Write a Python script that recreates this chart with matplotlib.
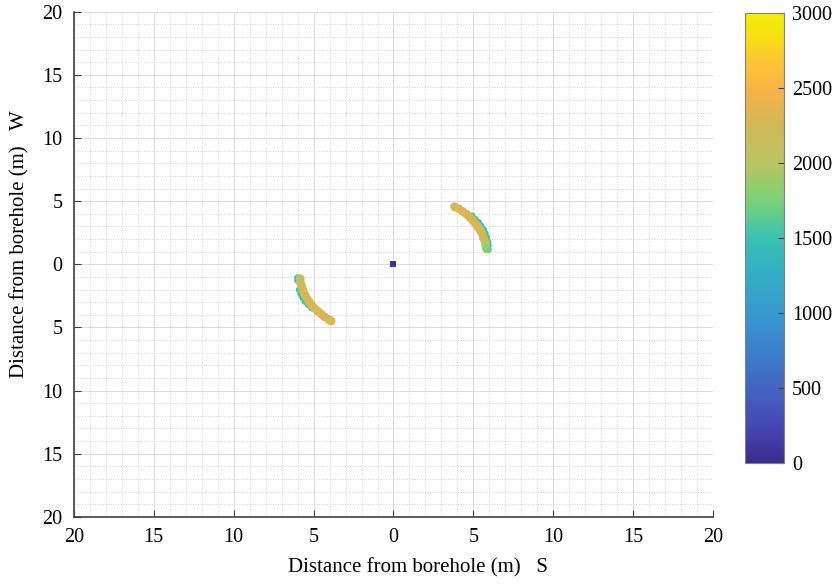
import numpy as np
import matplotlib
matplotlib.use('Agg')
import matplotlib.pyplot as plt
from matplotlib.colors import LinearSegmentedColormap
from matplotlib.ticker import MultipleLocator, FuncFormatter

plt.rcParams['font.family'] = ['Liberation Serif', 'DejaVu Serif']

# parula-like colour map, anchors
cmap_pos = [0.0, 0.08, 0.17, 0.25, 0.33, 0.42, 0.5, 0.56, 0.6,
            0.67, 0.75, 0.83, 0.9, 0.95, 1.0]
cmap_rgb = [
    [0.24, 0.17, 0.55], [0.27, 0.28, 0.70], [0.26, 0.40, 0.76],
    [0.24, 0.50, 0.80], [0.22, 0.60, 0.81], [0.20, 0.68, 0.77],
    [0.22, 0.76, 0.70], [0.40, 0.81, 0.53], [0.52, 0.82, 0.44],
    [0.73, 0.77, 0.38], [0.82, 0.72, 0.35], [0.97, 0.70, 0.28],
    [0.99, 0.78, 0.20], [0.97, 0.88, 0.06], [0.96, 0.92, 0.05]]
parula = LinearSegmentedColormap.from_list('parula_ref', list(zip(cmap_pos, cmap_rgb)))

# NE arc (polar: angle in degrees, radius in m, value)
ne_core_ang = [50, 47, 44, 41, 38, 35, 32, 29, 26, 23, 20, 17, 14, 12]
ne_core_rad = [5.95, 6.0, 6.02, 6.05, 6.05, 6.05, 6.05, 6.05, 6.05, 6.05, 6.0, 6.0, 5.95, 5.95]
ne_core_val = [2300, 2350, 2250, 2300, 2250, 2350, 2300, 2250, 2300, 2200, 2250, 2150, 2000, 1800]
ne_rim_ang = [38, 35, 32, 29, 26, 23, 20, 17, 14, 11]
ne_rim_rad = [6.25, 6.25, 6.28, 6.28, 6.28, 6.25, 6.22, 6.18, 6.12, 6.05]
ne_rim_val = [1600, 1550, 1500, 1550, 1500, 1450, 1500, 1550, 1450, 1400]

# SW arc
sw_core_ang = [191, 194, 197, 200, 203, 206, 209, 212, 215, 218, 221, 224, 227, 229]
sw_core_rad = [5.95, 6.0, 6.0, 6.02, 6.05, 6.05, 6.05, 6.05, 6.05, 6.02, 6.0, 6.0, 5.95, 5.95]
sw_core_val = [2000, 2150, 2250, 2200, 2300, 2250, 2200, 2300, 2250, 2300, 2350, 2250, 2300, 2350]
sw_rim_ang = [190, 192, 199, 202, 205, 208, 211, 214]
sw_rim_rad = [6.1, 6.15, 6.25, 6.27, 6.28, 6.28, 6.25, 6.2]
sw_rim_val = [1450, 1500, 1550, 1500, 1450, 1500, 1550, 1600]

# borehole
bh_x = [0.0]
bh_y = [0.0]
bh_val = [60]


def to_xy(ang, rad):
    a = np.radians(ang)
    r = np.array(rad)
    return r * np.cos(a), r * np.sin(a)


fig = plt.figure(figsize=(8.39, 5.86), dpi=100)
ax = fig.add_axes([0.088, 0.118, 0.762, 0.862])
cax = fig.add_axes([0.888, 0.21, 0.046, 0.768])

norm = plt.Normalize(0, 3000)
for ang, rad, val, s in [(ne_rim_ang, ne_rim_rad, ne_rim_val, 22),
                         (sw_rim_ang, sw_rim_rad, sw_rim_val, 22),
                         (ne_core_ang, ne_core_rad, ne_core_val, 40),
                         (sw_core_ang, sw_core_rad, sw_core_val, 40)]:
    x, y = to_xy(ang, rad)
    ax.scatter(x, y, c=val, cmap=parula, norm=norm, s=s, marker='o',
               linewidths=0, zorder=3)
ax.scatter(bh_x, bh_y, c=bh_val, cmap=parula, norm=norm, s=16, marker='s',
           linewidths=0, zorder=4)

ax.set_xlim(-20, 20)
ax.set_ylim(-20, 20)
ax.xaxis.set_major_locator(MultipleLocator(5))
ax.yaxis.set_major_locator(MultipleLocator(5))
ax.xaxis.set_minor_locator(MultipleLocator(1))
ax.yaxis.set_minor_locator(MultipleLocator(1))
absfmt = FuncFormatter(lambda v, p: '%d' % abs(round(v)))
ax.xaxis.set_major_formatter(absfmt)
ax.yaxis.set_major_formatter(absfmt)
ax.grid(True, which='major', color='#dadada', linewidth=0.7)
ax.grid(True, which='minor', color='#d0d0d0', linewidth=0.7, linestyle=':')
ax.set_axisbelow(True)
for side in ['top', 'right']:
    ax.spines[side].set_visible(False)
for side in ['left', 'bottom']:
    ax.spines[side].set_color('#404040')
    ax.spines[side].set_linewidth(1.2)
ax.tick_params(which='major', direction='in', length=5, color='#404040',
               labelsize=14.5, pad=8)
ax.tick_params(which='minor', length=0)

xl = ax.set_xlabel('Distance from borehole (m)   S', fontsize=15)
ax.xaxis.set_label_coords(0.335, -0.101)
xl.set_ha('left')
xl.set_va('center')
yl = ax.set_ylabel('Distance from borehole (m)   W', fontsize=15)
ax.yaxis.set_label_coords(-0.0845, 0.275)
yl.set_ha('left')
yl.set_va('center')

cb = fig.colorbar(plt.cm.ScalarMappable(norm=norm, cmap=parula), cax=cax)
cb.set_ticks([0, 500, 1000, 1500, 2000, 2500, 3000])
cb.outline.set_edgecolor('#808080')
cb.ax.tick_params(direction='in', length=4, color='#404040', labelsize=14.5, pad=6)

fig.savefig('out.png', dpi=100)
